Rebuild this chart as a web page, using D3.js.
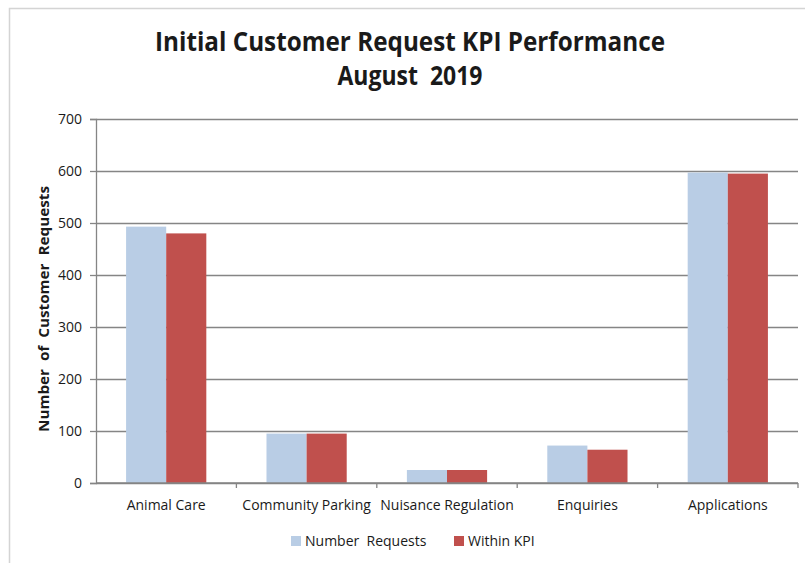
<!DOCTYPE html>
<html>
<head>
<meta charset="utf-8">
<script src="https://cdnjs.cloudflare.com/ajax/libs/d3/7.8.5/d3.min.js"></script>
<style>
  body { margin: 0; background: #fff; }
  svg { display: block; }
  text { font-family: "Open Sans", "DejaVu Sans Condensed", sans-serif; fill: #1a1a1a; }
</style>
</head>
<body>
<div id="container"></div>
<script>
var categories = ["Animal Care", "Community Parking", "Nuisance Regulation", "Enquiries", "Applications"];
var seriesNames = ["Number  Requests", "Within KPI"];
var numberRequests = [493, 95, 25, 72, 597];
var withinKPI = [480, 95, 25, 64, 595];
var yTicks = [0, 100, 200, 300, 400, 500, 600, 700];

var colors = ["#b9cde5", "#c0504d"]; // light blue, red
var width = 805;
var height = 563;
var margin = { top: 119, bottom: 80, left: 96, right: 7 }; // plot area

var svg = d3.select("#container")
    .append("svg")
    .attr("width", width)
    .attr("height", height);

// outer chart frame
svg.append("path")
    .attr("d", "M9.5," + height + "V8.5H" + width)
    .attr("fill", "none")
    .attr("stroke", "#d4d4d4")
    .attr("stroke-width", 1.5);

var plotW = width - margin.left - margin.right;
var plotH = height - margin.top - margin.bottom;

var chart = svg.append("g")
    .attr("transform", "translate(" + margin.left + "," + margin.top + ")");

var xScale = d3.scaleBand()
    .domain(categories)
    .range([0, plotW])
    .paddingInner(0.4286)
    .paddingOuter(0.2143);

// band for whole category (for tick marks at boundaries)
var xCat = d3.scaleBand().domain(categories).range([0, plotW]);

var xSub = d3.scaleBand()
    .domain(d3.range(seriesNames.length))
    .range([0, xScale.bandwidth()]);

var yScale = d3.scaleLinear()
    .domain([0, 700])
    .range([plotH, 0]);

// gridlines
chart.append("g")
    .attr("class", "grid")
    .call(d3.axisLeft(yScale).tickValues(yTicks).tickSize(-plotW).tickFormat(""))
    .call(function (g) { g.select(".domain").remove(); })
    .selectAll("line")
    .attr("stroke", "#858585")
    .attr("stroke-width", 1.3);

// bars
var table = categories.map(function (c, i) {
    return { cat: c, values: [numberRequests[i], withinKPI[i]] };
});

var groups = chart.selectAll(".cat")
    .data(table)
    .enter()
    .append("g")
    .attr("class", "cat")
    .attr("transform", function (d) { return "translate(" + xScale(d.cat) + ",0)"; });

groups.selectAll("rect")
    .data(function (d) { return d.values; })
    .enter()
    .append("rect")
    .attr("x", function (d, i) { return xSub(i); })
    .attr("y", function (d) { return yScale(d); })
    .attr("width", xSub.bandwidth())
    .attr("height", function (d) { return plotH - yScale(d); })
    .attr("fill", function (d, i) { return colors[i]; });

// y axis
var yAxis = chart.append("g")
    .call(d3.axisLeft(yScale).tickValues(yTicks).tickSize(6).tickPadding(8));
yAxis.select(".domain").attr("stroke", "#858585").attr("stroke-width", 1.3);
yAxis.selectAll("line").attr("stroke", "#858585").attr("stroke-width", 1.3);
yAxis.selectAll("text").attr("font-size", 14).style("fill", "#1a1a1a");

// x axis: ticks at category boundaries
var xAxis = chart.append("g")
    .attr("transform", "translate(0," + plotH + ")");
xAxis.append("line")
    .attr("x1", 0).attr("x2", plotW)
    .attr("stroke", "#858585").attr("stroke-width", 1.3);
xAxis.selectAll(".xtick")
    .data(categories)
    .enter()
    .append("line")
    .attr("class", "xtick")
    .attr("x1", function (d) { return xCat(d) + xCat.bandwidth(); })
    .attr("x2", function (d) { return xCat(d) + xCat.bandwidth(); })
    .attr("y1", 0).attr("y2", 5)
    .attr("stroke", "#858585").attr("stroke-width", 1.3);
xAxis.selectAll(".xlabel")
    .data(categories)
    .enter()
    .append("text")
    .attr("class", "xlabel")
    .attr("x", function (d) { return xCat(d) + xCat.bandwidth() / 2; })
    .attr("y", 27)
    .attr("text-anchor", "middle")
    .attr("font-size", 14)
    .text(function (d) { return d; });

// y axis title
svg.append("text")
    .attr("transform", "translate(49," + 309 + ") rotate(-90)")
    .attr("text-anchor", "middle")
    .attr("font-size", 14)
    .attr("font-weight", "bold")
    .style("white-space", "pre")
    .attr("textLength", 246)
    .attr("lengthAdjust", "spacingAndGlyphs")
    .text("Number  of  Customer  Requests");

// title
svg.append("text")
    .attr("x", 410)
    .attr("y", 51)
    .attr("text-anchor", "middle")
    .attr("font-size", 27)
    .attr("font-weight", "bold")
    .attr("textLength", 510)
    .attr("lengthAdjust", "spacingAndGlyphs")
    .text("Initial Customer Request KPI Performance");

svg.append("text")
    .attr("x", 410)
    .attr("y", 85)
    .attr("text-anchor", "middle")
    .attr("font-size", 27)
    .attr("font-weight", "bold")
    .style("white-space", "pre")
    .attr("textLength", 145)
    .attr("lengthAdjust", "spacingAndGlyphs")
    .text("August  2019");

// legend
var legendX = [291, 454];
var legend = svg.selectAll(".legend")
    .data(seriesNames)
    .enter()
    .append("g")
    .attr("class", "legend")
    .attr("transform", function (d, i) { return "translate(" + legendX[i] + ",536)"; });

legend.append("rect")
    .attr("width", 10)
    .attr("height", 10)
    .attr("fill", function (d, i) { return colors[i]; });

legend.append("text")
    .attr("x", 14)
    .attr("y", 10)
    .attr("font-size", 14)
    .style("white-space", "pre")
    .text(function (d) { return d; });
</script>
</body>
</html>
